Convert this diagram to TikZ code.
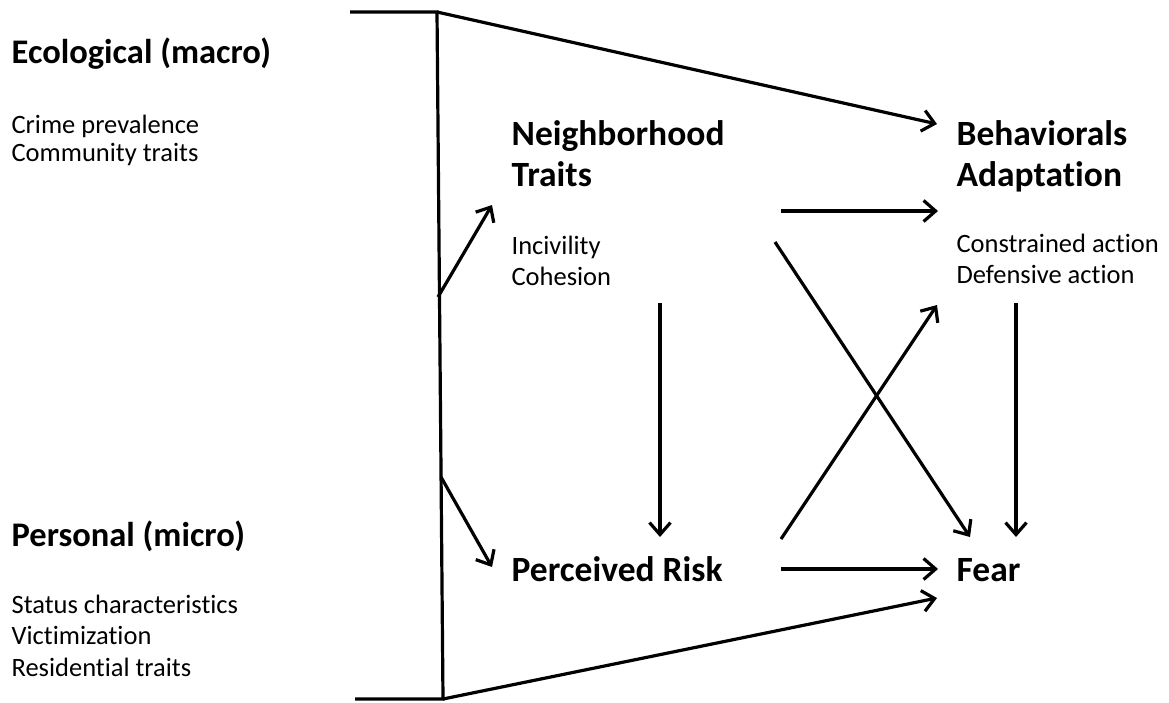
\documentclass[tikz,border=0pt]{standalone}
\usepackage{fontspec}
\setmainfont{Carlito}[Ligatures={NoCommon,NoContextual}]
\usepackage{tikz}
\usetikzlibrary{arrows.meta}

\begin{document}
\begin{tikzpicture}[x=1pt, y=-1pt, line width=3.2pt,
	arr/.style={-{Straight Barb[length=12pt, width=21pt]}},
	head/.style={font=\bfseries\fontsize{35.5}{41}\selectfont, inner sep=0pt, anchor=base west, align=left},
	side/.style={font=\bfseries\fontsize{34.5}{41}\selectfont, inner sep=0pt, anchor=base west},
	items/.style={font=\fontsize{26.5}{30.5}\selectfont, inner sep=0pt, anchor=base west, align=left}]
	\useasboundingbox (0,0) rectangle (1169,702);

	% levels on the left (anchor = baseline of last line)
	\node[side] (ecol) at (10,63) {Ecological (macro)};
	\node[items, font=\fontsize{26.5}{28}\selectfont] (ecolitems) at (10,161) {Crime prevalence\\Community traits};
	\node[side] (pers) at (10,546) {Personal (micro)};
	\node[items, font=\fontsize{26.5}{31.5}\selectfont] (persitems) at (10,676) {Status characteristics\\Victimization\\Residential traits};

	% concepts
	\node[head] (nbh) at (510,186) {Neighborhood\\Traits};
	\node[items] (nbhitems) at (510,285) {Incivility\\Cohesion};
	\node[head] (beh) at (955,186) {Behaviorals\\Adaptation};
	\node[items] (behitems) at (955,283) {Constrained action\\Defensive action};
	\node[head] (risk) at (510,581) {Perceived Risk};
	\node[head] (fear) at (955,581) {Fear};

	% bracket
	\coordinate (tl) at (350,12);
	\coordinate (tc) at (437,12);
	\coordinate (bc) at (443,699);
	\coordinate (bl) at (355,699);
	\coordinate (hubn) at (438,297);
	\coordinate (hubr) at (441,477);
	\draw[line join=miter] (tl) -- (tc) -- (bc) -- (bl);

	\draw[arr] (tc) -- (937,124);
	\draw[arr] (bc) -- (937,598);
	\draw[arr] (hubn) -- (492,205);
	\draw[arr] (hubr) -- (492,567);

	\draw[arr] (781,211) -- (938,211);
	\draw[arr] (660,303) -- (660,537);
	\draw[arr] (1016,303) -- (1016,537);
	\draw[arr] (775,242) -- (970,537);
	\draw[arr] (781,539) -- (937,305);
	\draw[arr] (781,569) -- (938,569);
\end{tikzpicture}
\end{document}
